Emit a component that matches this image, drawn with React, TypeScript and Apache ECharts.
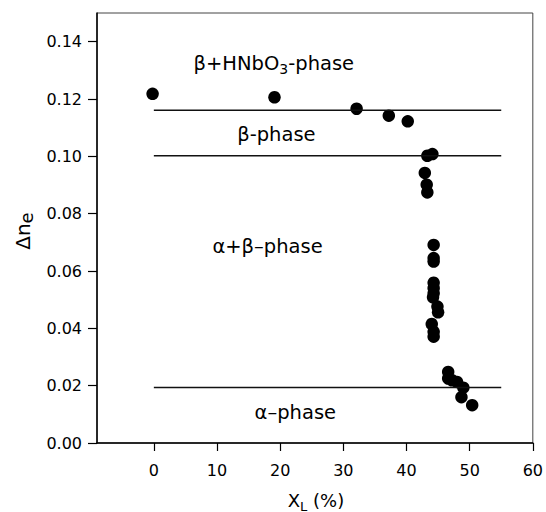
import React, { useEffect, useRef } from 'react';
import * as echarts from 'echarts';

// Measured data points (X_L in %, Δn_e)
const xValues = [
  -0.2, 19.1, 32.1, 37.2, 40.2, 43.3, 44.1, 42.9, 43.2, 43.3,
  44.3, 44.3, 44.3, 44.3, 44.3, 44.3, 44.2, 44.9, 45.0, 44.0,
  44.3, 44.3, 46.6, 46.6, 47.2, 48.0, 49.0, 48.7, 50.4,
];
const yValues = [
  0.1218, 0.1206, 0.1166, 0.1142, 0.1122, 0.1002, 0.1008, 0.0942, 0.0901, 0.0874,
  0.0691, 0.0645, 0.0633, 0.0559, 0.0540, 0.0522, 0.0508, 0.0476, 0.0456, 0.0415,
  0.0388, 0.0371, 0.0248, 0.0225, 0.0219, 0.0213, 0.0193, 0.0160, 0.0132,
];

// Phase boundaries (horizontal lines)
const boundaryLevels = [0.1161, 0.1002, 0.0194];
const boundaryFrom = 0;
const boundaryTo = 55;

// Phase region labels (anchored in data coordinates)
const phaseNames = ['{m|β+HNbO}{s|3}{m|-phase}', '{m|β-phase}', '{m|α+β–phase}', '{m|α–phase}'];
const phaseX = [19.0, 19.4, 18.0, 22.4];
const phaseY = [0.1324, 0.1076, 0.0686, 0.0106];

// Axes
const xTicks = [0, 10, 20, 30, 40, 50, 60];
const yTicks = [0, 0.02, 0.04, 0.06, 0.08, 0.1, 0.12, 0.14];
const xMin = -9;
const xMax = 60;
const yMin = 0;
const yMax = 0.15;

const FONT = 'DejaVu Sans';

export default function App() {
  const ref = useRef<HTMLDivElement>(null);

  useEffect(() => {
    if (!ref.current) return;
    const chart = echarts.init(ref.current, null, { renderer: 'svg' });

    const option: any = {
      animation: false,
      backgroundColor: '#ffffff',
      grid: {
        left: 97,
        right: 12,
        top: 13,
        bottom: 69,
        show: true,
        borderColor: '#444',
        borderWidth: 1,
        containLabel: false,
      },
      xAxis: {
        type: 'value',
        min: xMin,
        max: xMax,
        axisLine: { show: true, onZero: false, lineStyle: { color: '#000', width: 1.5 } },
        axisTick: { show: true, length: 8, customValues: xTicks, lineStyle: { color: '#000', width: 1.2 } },
        axisLabel: {
          customValues: xTicks,
          margin: 19,
          fontFamily: FONT,
          fontSize: 16,
          color: '#000',
        },
        splitLine: { show: false },
      },
      yAxis: {
        type: 'value',
        min: yMin,
        max: yMax,
        axisLine: { show: true, onZero: false, lineStyle: { color: '#000', width: 1.5 } },
        axisTick: { show: true, length: 9, customValues: yTicks, lineStyle: { color: '#000', width: 1.2 } },
        axisLabel: {
          customValues: yTicks,
          margin: 15,
          fontFamily: FONT,
          fontSize: 16,
          color: '#000',
          formatter: (v: number) => v.toFixed(2),
        },
        splitLine: { show: false },
      },
      series: [
        ...boundaryLevels.map((lvl) => ({
          type: 'line',
          data: [
            [boundaryFrom, lvl],
            [boundaryTo, lvl],
          ],
          symbol: 'none',
          silent: true,
          lineStyle: { color: '#111', width: 1.5, opacity: 1 },
        })),
        {
          type: 'scatter',
          data: xValues.map((x, i) => [x, yValues[i]]),
          symbol: 'circle',
          symbolSize: 12.5,
          itemStyle: { color: '#000', opacity: 1 },
        },
        {
          type: 'scatter',
          data: phaseX.map((x, i) => [x, phaseY[i]]),
          symbol: 'circle',
          symbolSize: 0,
          silent: true,
          itemStyle: { color: '#fff', opacity: 1 },
          label: {
            show: true,
            position: 'inside',
            color: '#000',
            opacity: 1,
            formatter: (p: any) => phaseNames[p.dataIndex],
            rich: {
              m: { fontFamily: FONT, fontSize: 19.5, color: '#000', lineHeight: 24, verticalAlign: 'middle' },
              s: {
                fontFamily: FONT,
                fontSize: 14,
                color: '#000',
                lineHeight: 14,
                padding: [12, 0, 0, 0],
                verticalAlign: 'middle',
              },
            },
          },
        },
      ],
      graphic: [
        {
          type: 'text',
          x: 23,
          y: 231,
          rotation: Math.PI / 2,
          style: {
            text: '{m|Δn}{s|e}',
            align: 'center',
            verticalAlign: 'middle',
            fill: '#000',
            rich: {
              m: { fontFamily: FONT, fontSize: 20, fill: '#000', lineHeight: 24, verticalAlign: 'middle' },
              s: { fontFamily: FONT, fontSize: 18, fill: '#000', lineHeight: 18, padding: [6, 0, 0, 0], verticalAlign: 'middle' },
            },
          },
        },
        {
          type: 'text',
          x: 316,
          y: 500,
          style: {
            text: '{m|X}{s|L}{m| (%)}',
            align: 'center',
            verticalAlign: 'middle',
            fill: '#000',
            rich: {
              m: { fontFamily: FONT, fontSize: 18, fill: '#000', lineHeight: 22, verticalAlign: 'middle' },
              s: { fontFamily: FONT, fontSize: 13, fill: '#000', lineHeight: 13, padding: [12, 0, 0, 0], verticalAlign: 'middle' },
            },
          },
        },
      ],
    };

    chart.setOption(option);
    return () => {
      chart.dispose();
    };
  }, []);

  return (
    <div
      ref={ref}
      style={{ position: 'fixed', left: 0, top: 0, width: 546, height: 512, background: '#fff' }}
    />
  );
}
